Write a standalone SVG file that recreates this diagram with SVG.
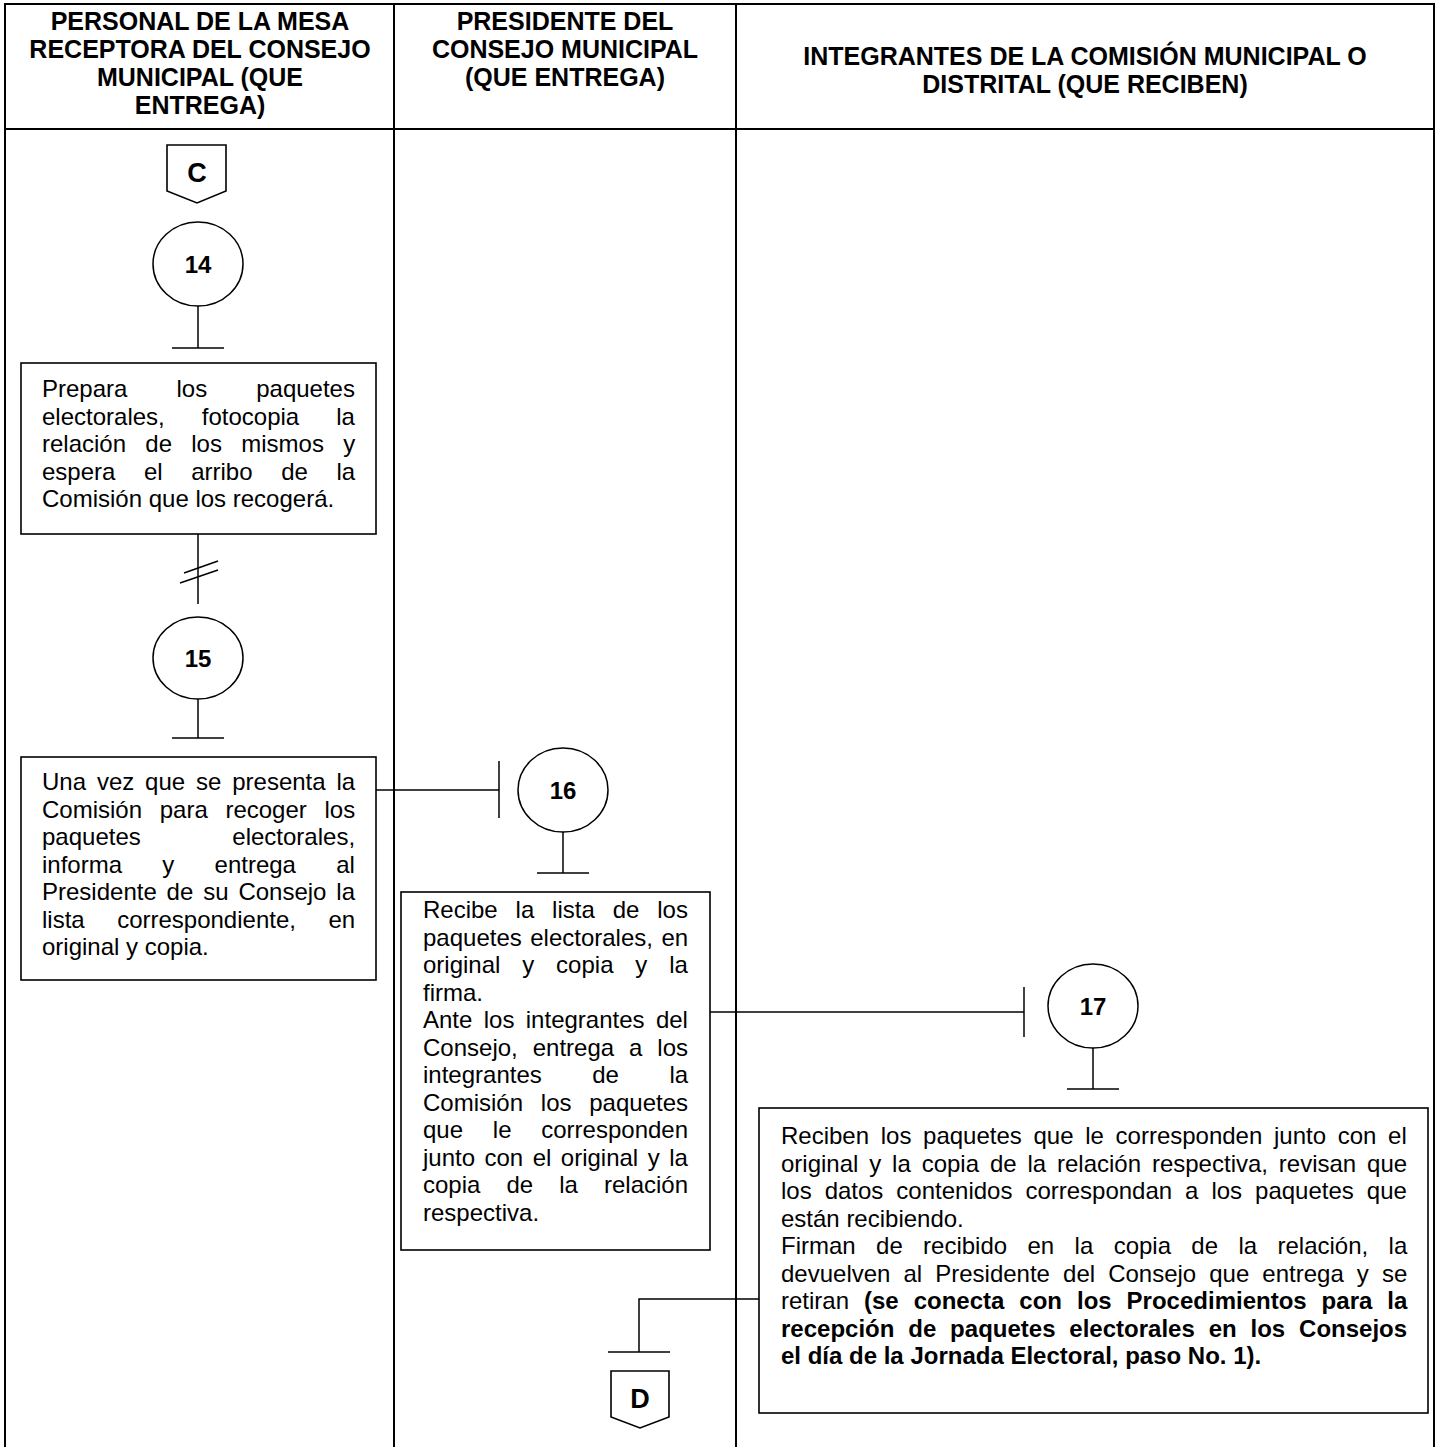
<svg xmlns="http://www.w3.org/2000/svg" width="1438" height="1447" viewBox="0 0 1438 1447">
<style>
  .grid { stroke: #000; stroke-width: 2; fill: none; }
  .box { fill: #fff; stroke: #000; stroke-width: 1.6; }
  .ln { stroke: #000; stroke-width: 1.5; fill: none; }
  .circ { fill: #fff; stroke: #000; stroke-width: 1.5; }
  .hd { font-family: "Liberation Sans", Arial, sans-serif; font-size: 25px; font-weight: bold; text-anchor: middle; fill: #000; }
  .tx { font-family: "Liberation Sans", Arial, sans-serif; font-size: 24px; fill: #000; }
  .b { font-weight: bold; }
  .num { font-family: "Liberation Sans", Arial, sans-serif; font-size: 24px; font-weight: bold; text-anchor: middle; fill: #000; }
  .let { font-family: "Liberation Sans", Arial, sans-serif; font-size: 27px; font-weight: bold; text-anchor: middle; fill: #000; }
</style>
<rect x="0" y="0" width="1438" height="1447" fill="#fff"/>
<g id="table">
  <line class="grid" x1="5" y1="4" x2="1434" y2="4"/>
  <line class="grid" x1="5" y1="3" x2="5" y2="1447"/>
  <line class="grid" x1="1434" y1="3" x2="1434" y2="1447"/>
  <line class="grid" x1="394" y1="4" x2="394" y2="1447"/>
  <line class="grid" x1="736" y1="4" x2="736" y2="1447"/>
  <line class="grid" x1="5" y1="129" x2="1434" y2="129"/>
  <text class="hd"><tspan x="200" y="30">PERSONAL DE LA MESA</tspan><tspan x="200" y="58">RECEPTORA DEL CONSEJO</tspan><tspan x="200" y="86">MUNICIPAL (QUE</tspan><tspan x="200" y="114">ENTREGA)</tspan></text>
  <text class="hd"><tspan x="565" y="30">PRESIDENTE DEL</tspan><tspan x="565" y="58">CONSEJO MUNICIPAL</tspan><tspan x="565" y="86">(QUE ENTREGA)</tspan></text>
  <text class="hd"><tspan x="1085" y="65">INTEGRANTES DE LA COMISIÓN MUNICIPAL O</tspan><tspan x="1085" y="93">DISTRITAL (QUE RECIBEN)</tspan></text>
</g>
<g id="connectors">
  <line class="ln" x1="198" y1="306" x2="198" y2="348"/>
  <line class="ln" x1="172" y1="348" x2="224" y2="348"/>
  <line class="ln" x1="198" y1="534" x2="198" y2="604"/>
  <line class="ln" x1="184" y1="573" x2="218" y2="561"/>
  <line class="ln" x1="180" y1="583" x2="218" y2="570"/>
  <line class="ln" x1="198" y1="699" x2="198" y2="738"/>
  <line class="ln" x1="172" y1="738" x2="224" y2="738"/>
  <line class="ln" x1="376" y1="790" x2="499" y2="790"/>
  <line class="ln" x1="499" y1="761" x2="499" y2="818"/>
  <line class="ln" x1="563" y1="832" x2="563" y2="873"/>
  <line class="ln" x1="537" y1="873" x2="589" y2="873"/>
  <line class="ln" x1="710" y1="1012" x2="1024" y2="1012"/>
  <line class="ln" x1="1024" y1="987" x2="1024" y2="1037"/>
  <line class="ln" x1="1093" y1="1048" x2="1093" y2="1089"/>
  <line class="ln" x1="1067" y1="1089" x2="1119" y2="1089"/>
  <polyline class="ln" points="759,1299 639,1299 639,1352"/>
  <line class="ln" x1="608" y1="1352" x2="670" y2="1352"/>
</g>
<g id="connC">
  <polygon class="box" points="167,145 226,145 226,191 197,203 167,191"/>
  <text class="let" x="197" y="182">C</text>
</g>
<g id="step14">
  <ellipse class="circ" cx="198" cy="264" rx="45" ry="42"/>
  <text class="num" x="198" y="273">14</text>
</g>
<g id="box14">
  <rect class="box" x="21" y="363" width="355" height="171"/>
  <text class="tx" x="42" y="397" word-spacing="42.4">Prepara los paquetes</text>
  <text class="tx" x="42" y="424.5" word-spacing="30.4">electorales, fotocopia la</text>
  <text class="tx" x="42" y="452" word-spacing="12.6">relación de los mismos y</text>
  <text class="tx" x="42" y="479.5" word-spacing="21.9">espera el arribo de la</text>
  <text class="tx" x="42" y="507">Comisión que los recogerá.</text>
</g>
<g id="step15">
  <ellipse class="circ" cx="198" cy="658" rx="45" ry="41"/>
  <text class="num" x="198" y="667">15</text>
</g>
<g id="box15">
  <rect class="box" x="21" y="757" width="355" height="223"/>
  <text class="tx" x="42" y="790" word-spacing="4.2">Una vez que se presenta la</text>
  <text class="tx" x="42" y="817.5" word-spacing="11">Comisión para recoger los</text>
  <text class="tx" x="42" y="845" word-spacing="84.9">paquetes electorales,</text>
  <text class="tx" x="42" y="872.5" word-spacing="33.6">informa y entrega al</text>
  <text class="tx" x="42" y="900" word-spacing="3.2">Presidente de su Consejo la</text>
  <text class="tx" x="42" y="927.5" word-spacing="25.8">lista correspondiente, en</text>
  <text class="tx" x="42" y="955">original y copia.</text>
</g>
<g id="step16">
  <ellipse class="circ" cx="563" cy="790" rx="45" ry="42"/>
  <text class="num" x="563" y="799">16</text>
</g>
<g id="box16">
  <rect class="box" x="401" y="892" width="309" height="358"/>
  <text class="tx" x="423" y="918" word-spacing="11.2">Recibe la lista de los</text>
  <text class="tx" x="423" y="945.5" word-spacing="1.8">paquetes electorales, en</text>
  <text class="tx" x="423" y="973" word-spacing="15.2">original y copia y la</text>
  <text class="tx" x="423" y="1000.5">firma.</text>
  <text class="tx" x="423" y="1028" word-spacing="4.7">Ante los integrantes del</text>
  <text class="tx" x="423" y="1055.5" word-spacing="8.3">Consejo, entrega a los</text>
  <text class="tx" x="423" y="1083" word-spacing="43.8">integrantes de la</text>
  <text class="tx" x="423" y="1110.5" word-spacing="11.1">Comisión los paquetes</text>
  <text class="tx" x="423" y="1138" word-spacing="23.1">que le corresponden</text>
  <text class="tx" x="423" y="1165.5" word-spacing="2.8">junto con el original y la</text>
  <text class="tx" x="423" y="1193" word-spacing="19.4">copia de la relación</text>
  <text class="tx" x="423" y="1220.5">respectiva.</text>
</g>
<g id="step17">
  <ellipse class="circ" cx="1093" cy="1006" rx="45" ry="42"/>
  <text class="num" x="1093" y="1015">17</text>
</g>
<g id="box17">
  <rect class="box" x="759" y="1108" width="669" height="305"/>
  <text class="tx" x="781" y="1144" word-spacing="5.0">Reciben los paquetes que le corresponden junto con el</text>
  <text class="tx" x="781" y="1171.5" word-spacing="4.2">original y la copia de la relación respectiva, revisan que</text>
  <text class="tx" x="781" y="1199" word-spacing="6.3">los datos contenidos correspondan a los paquetes que</text>
  <text class="tx" x="781" y="1226.5">están recibiendo.</text>
  <text class="tx" x="781" y="1254" word-spacing="13.7">Firman de recibido en la copia de la relación, la</text>
  <text class="tx" x="781" y="1281.5" word-spacing="6.4">devuelven al Presidente del Consejo que entrega y se</text>
  <text class="tx" x="781" y="1309" word-spacing="8.3">retiran <tspan class="b">(se conecta con los Procedimientos para la</tspan></text>
  <text class="tx b" x="781" y="1336.5" word-spacing="7.2">recepción de paquetes electorales en los Consejos</text>
  <text class="tx b" x="781" y="1364">el día de la Jornada Electoral, paso No. 1).</text>
</g>
<g id="connD">
  <polygon class="box" points="611,1371 669,1371 669,1417 640,1428 611,1417"/>
  <text class="let" x="640" y="1408">D</text>
</g>
</svg>
